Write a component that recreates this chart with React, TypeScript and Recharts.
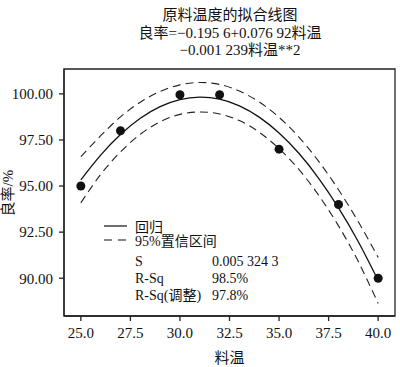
import React from "react";
import { ComposedChart, Line, Scatter, XAxis, YAxis, ReferenceArea } from "recharts";

const temps = [25, 26, 27, 28, 29, 30, 31, 32, 33, 34, 35, 36, 37, 38, 39, 40];
const fitValues = [95.34, 96.68, 97.8, 98.68, 99.31, 99.69, 99.82, 99.71, 99.35, 98.74, 97.88, 96.78, 95.42, 93.82, 91.98, 89.88];
const upperValues = [96.59, 97.73, 98.75, 99.55, 100.13, 100.49, 100.62, 100.51, 100.15, 99.56, 98.73, 97.66, 96.34, 94.8, 93.06, 91.13];
const lowerValues = [94.09, 95.63, 96.85, 97.81, 98.49, 98.89, 99.02, 98.91, 98.55, 97.92, 97.03, 95.9, 94.5, 92.84, 90.9, 88.63];

const obsTemps = [25, 27, 30, 32, 35, 38, 40];
const obsYield = [95.0, 98.0, 99.95, 99.95, 97.0, 94.0, 90.0];

const xTicks = [25, 27.5, 30, 32.5, 35, 37.5, 40];
const yTicks = [90, 92.5, 95, 97.5, 100];
const xDomain = [24.15, 40.85];
const yDomain = [87.95, 101.35];

const titleLines = ["原料温度的拟合线图", "良率=−0.195 6+0.076 92料温", "−0.001 239料温**2"];
const statsRows = [
  ["S", "0.005 324 3"],
  ["R-Sq", "98.5%"],
  ["R-Sq(调整)", "97.8%"],
];

const curveData = temps.map((t, i) => ({ t, fit: fitValues[i], upper: upperValues[i], lower: lowerValues[i] }));
const obsData = obsTemps.map((t, i) => ({ t, y: obsYield[i] }));

const FONT = "'Liberation Serif', 'Times New Roman', 'Noto Sans CJK SC', serif";
const AX = "#222";

export default function App() {
  return (
    <div style={{ position: "absolute", left: 0, top: 0, width: 400, height: 367, background: "#fff", fontFamily: FONT }}>
      <ComposedChart width={400} height={367} margin={{ top: 69, right: 5, bottom: 0, left: 14 }}>
        <XAxis
          dataKey="t"
          type="number"
          domain={xDomain}
          ticks={xTicks}
          tickFormatter={(v: number) => v.toFixed(1)}
          allowDataOverflow
          height={51}
          tickSize={5}
          tickMargin={6}
          stroke={AX}
          strokeWidth={1.3}
          tick={{ fill: "#111", fontSize: 15, fontFamily: FONT }}
          label={{ value: "料温", position: "insideBottom", offset: 4, fill: "#111", fontSize: 15, fontFamily: FONT }}
        />
        <YAxis
          type="number"
          domain={yDomain}
          ticks={yTicks}
          tickFormatter={(v: number) => v.toFixed(2)}
          allowDataOverflow
          width={50}
          tickSize={5}
          tickMargin={6}
          stroke={AX}
          strokeWidth={1.3}
          tick={{ fill: "#111", fontSize: 15, fontFamily: FONT }}
          label={{ value: "良率/%", angle: -90, position: "insideLeft", offset: -6, dy: 24, fill: "#111", fontSize: 15, fontFamily: FONT }}
        />
        <ReferenceArea
          x1={xDomain[0]}
          x2={xDomain[1]}
          y1={yDomain[0]}
          y2={yDomain[1]}
          fill="none"
          fillOpacity={0}
          stroke={AX}
          strokeWidth={1.3}
          ifOverflow="visible"
        />
        <Line data={curveData} dataKey="upper" type="natural" stroke="#222" strokeWidth={1.1} strokeDasharray="8 5" dot={false} isAnimationActive={false} />
        <Line data={curveData} dataKey="lower" type="natural" stroke="#222" strokeWidth={1.1} strokeDasharray="8 5" dot={false} isAnimationActive={false} />
        <Line data={curveData} dataKey="fit" type="natural" stroke="#111" strokeWidth={1.3} dot={false} isAnimationActive={false} />
        <Scatter
          data={obsData}
          dataKey="y"
          fill="#111"
          isAnimationActive={false}
          shape={(p: any) => <circle cx={p.cx} cy={p.cy} r={4.5} fill="#111" />}
        />
      </ComposedChart>

      {titleLines.map((s, i) => (
        <div
          key={i}
          style={{
            position: "absolute",
            left: i === 2 ? 10 : 0,
            width: 460,
            top: [6, 24, 41][i],
            textAlign: "center",
            fontSize: 15,
            lineHeight: "18px",
            color: "#111",
            whiteSpace: "nowrap",
          }}
        >
          {s}
        </div>
      ))}

      <div style={{ position: "absolute", left: 103, top: 217, display: "flex", alignItems: "center", height: 17, fontSize: 14, color: "#111" }}>
        <svg width={26} height={10} style={{ marginRight: 6 }}>
          <line x1={1} y1={5} x2={24} y2={5} stroke="#111" strokeWidth={1.2} />
        </svg>
        <span>回归</span>
      </div>
      <div style={{ position: "absolute", left: 103, top: 231, display: "flex", alignItems: "center", height: 17, fontSize: 14, color: "#111" }}>
        <svg width={26} height={10} style={{ marginRight: 6 }}>
          <line x1={1} y1={5} x2={24} y2={5} stroke="#111" strokeWidth={1.2} strokeDasharray="8 6" />
        </svg>
        <span>95%置信区间</span>
      </div>
      {statsRows.map((r, i) => (
        <div
          key={i}
          style={{ position: "absolute", left: 135, top: [253, 270, 287][i], display: "flex", height: 17, lineHeight: "17px", fontSize: 14, color: "#111" }}
        >
          <span style={{ width: 77 }}>{r[0]}</span>
          <span>{r[1]}</span>
        </div>
      ))}
    </div>
  );
}
